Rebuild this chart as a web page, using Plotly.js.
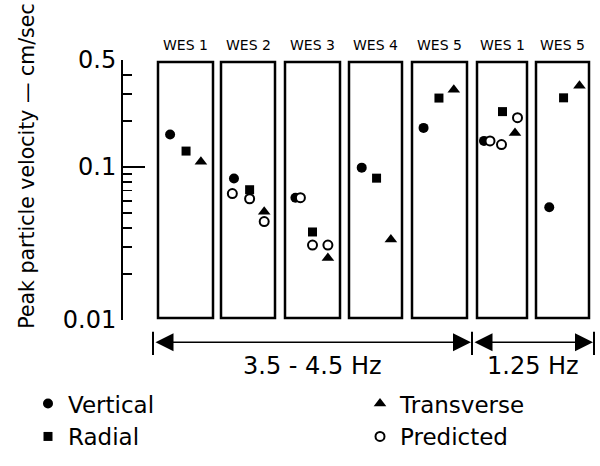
<!DOCTYPE html>
<html><head><meta charset="utf-8">
<script src="https://cdn.plot.ly/plotly-3.0.1.min.js"></script>
<style>html,body{margin:0;padding:0;background:#fff}#chart{width:600px;height:466px}</style>
</head><body><div id="chart"></div>
<script>
// ---- data ----
const panelLabels = ['WES 1','WES 2','WES 3','WES 4','WES 5','WES 1','WES 5'];
const bandLabels = ['3.5 - 4.5 Hz','1.25 Hz'];
const vertical   = [0.163, 0.084, 0.063, 0.099, 0.180, 0.148, 0.0546];
const radial     = [0.127, 0.071, 0.0376, 0.0845, 0.282, 0.230, 0.283];
const transverse = [0.108, 0.051, 0.0254, 0.0336, 0.320, 0.167, 0.339];
const verticalPos   = [0.22, 0.24, 0.19, 0.24, 0.21, 0.14, 0.25];
const radialPos     = [0.51, 0.53, 0.50, 0.52, 0.49, 0.51, 0.52];
const transversePos = [0.78, 0.80, 0.78, 0.79, 0.76, 0.76, 0.82];
const predPanel = [1, 1, 1, 2, 2, 2, 5, 5, 5];
const predicted = [0.067, 0.062, 0.044, 0.063, 0.0309, 0.0309, 0.148, 0.140, 0.210];
const predPos   = [0.21, 0.53, 0.80, 0.28, 0.50, 0.78, 0.26, 0.49, 0.81];
const majorTicks = [0.01, 0.1, 0.5];
const majorTickText = ['0.01', '0.1', '0.5'];
const minorTicks = [0.02,0.03,0.04,0.05,0.06,0.07,0.08,0.09,0.2,0.3,0.4];
const yTitle = 'Peak particle velocity \u2014 cm/sec';

// ---- layout geometry ----
const W = 600, H = 466;
const M = {l: 122, r: 8, t: 60, b: 138};
const plotW = W - M.l - M.r, plotH = H - M.t - M.b;
const panelEdges = [[158,213],[221,275],[285,340],[349,402],[412,467],[477,527],[536,589]];
const px2x = p => (p - M.l) / plotW;
const py2y = p => (H - M.b - p) / plotH;
const FONT = 'DejaVu Sans, sans-serif';

const axName = i => 'x' + (i === 0 ? '' : (i + 1));
const layoutAx = i => 'xaxis' + (i === 0 ? '' : (i + 1));

const series = [
  {name: 'Vertical', vals: vertical, pos: verticalPos, legend: 'legend',
   marker: {symbol: 'circle', size: 10, color: '#000'}},
  {name: 'Radial', vals: radial, pos: radialPos, legend: 'legend',
   marker: {symbol: 'square', size: 9, color: '#000'}},
  {name: 'Transverse', vals: transverse, pos: transversePos, legend: 'legend2',
   marker: {symbol: 'triangle-up', size: 11, color: '#000'}}
];

const traces = [];
series.forEach(s => {
  panelLabels.forEach((lab, i) => {
    traces.push({
      type: 'scatter', mode: 'markers', name: s.name, legendgroup: s.name,
      legend: s.legend, showlegend: i === 0,
      x: [s.pos[i]], y: [s.vals[i]], xaxis: axName(i), yaxis: 'y',
      marker: s.marker, hoverinfo: 'name+y'
    });
  });
});
panelLabels.forEach((lab, i) => {
  const idx = predPanel.map((p, k) => p === i ? k : -1).filter(k => k >= 0);
  if (!idx.length) return;
  traces.push({
    type: 'scatter', mode: 'markers', name: 'Predicted', legendgroup: 'Predicted',
    legend: 'legend2', showlegend: i === predPanel[0],
    x: idx.map(k => predPos[k]), y: idx.map(k => predicted[k]),
    xaxis: axName(i), yaxis: 'y',
    marker: {symbol: 'circle', size: 9, color: '#fff', line: {color: '#000', width: 2}},
    hoverinfo: 'name+y'
  });
});

const layout = {
  width: W, height: H, margin: M,
  paper_bgcolor: '#fff', plot_bgcolor: 'rgba(0,0,0,0)',
  font: {family: FONT, color: '#000', size: 20},
  showlegend: true,
  yaxis: {
    type: 'log', range: [-2, Math.log10(0.5)], anchor: 'free', position: 0,
    tickmode: 'array', tickvals: majorTicks, ticktext: majorTickText,
    ticks: 'inside', ticklen: 22, tickwidth: 2, tickcolor: '#000',
    showline: true, linewidth: 2, linecolor: '#000',
    showgrid: false, zeroline: false,
    tickfont: {family: FONT, size: 24},
    minor: {tickmode: 'array', tickvals: minorTicks, ticks: 'inside', ticklen: 9,
            tickwidth: 1.5, tickcolor: '#000', showgrid: false}
  },
  legend: {x: px2x(28), y: py2y(392), xanchor: 'left', yanchor: 'top',
           font: {family: FONT, size: 23}, bgcolor: 'rgba(0,0,0,0)', traceorder: 'normal'},
  legend2: {x: px2x(360), y: py2y(392), xanchor: 'left', yanchor: 'top',
            font: {family: FONT, size: 23}, bgcolor: 'rgba(0,0,0,0)', traceorder: 'normal'},
  shapes: [],
  annotations: [{xref: 'paper', yref: 'paper', x: px2x(27), y: py2y(170),
    text: yTitle, textangle: -90, showarrow: false, xanchor: 'center', yanchor: 'middle',
    font: {family: FONT, size: 20.5}}]
};

panelLabels.forEach((lab, i) => {
  layout[layoutAx(i)] = {
    domain: [px2x(panelEdges[i][0]), px2x(panelEdges[i][1])],
    range: [0, 1], visible: false, anchor: 'y', fixedrange: true
  };
  layout.shapes.push({type: 'rect', xref: axName(i) + ' domain', yref: 'y domain',
    x0: 0, x1: 1, y0: 0.008, y1: 0.992, line: {color: '#000', width: 2.5}});
  layout.annotations.push({xref: axName(i) + ' domain', yref: 'paper', x: 0.5, y: py2y(45),
    text: lab, showarrow: false, xanchor: 'center', yanchor: 'middle',
    font: {family: FONT, size: 14}});
});

// frequency band arrows
const bandBounds = [
  px2x(panelEdges[0][0] - 5),
  px2x((panelEdges[4][1] + panelEdges[5][0]) / 2),
  px2x(panelEdges[6][1] + 5)
];
const arrowY = py2y(351);
bandBounds.forEach(b => {
  layout.shapes.push({type: 'line', xref: 'paper', yref: 'paper', x0: b, x1: b,
    y0: py2y(340), y1: py2y(364), line: {color: '#000', width: 2}});
});
bandLabels.forEach((lab, k) => {
  const a = bandBounds[k], b = bandBounds[k + 1];
  layout.annotations.push({xref: 'paper', yref: 'paper', x: b, y: arrowY,
    axref: 'pixel', ayref: 'pixel', ax: (a - b) * plotW, ay: 0, text: '',
    showarrow: true, arrowside: 'end+start', arrowhead: 2, startarrowhead: 2,
    arrowsize: 2.4, startarrowsize: 2.4, arrowwidth: 1.5, arrowcolor: '#000',
    standoff: 1, startstandoff: 1});
  layout.annotations.push({xref: 'paper', yref: 'paper', x: (a + b) / 2, y: py2y(375),
    text: lab, showarrow: false, xanchor: 'center', yanchor: 'middle',
    font: {family: FONT, size: 24}});
});

Plotly.newPlot('chart', traces, layout, {displayModeBar: false, staticPlot: true});
</script></body></html>
